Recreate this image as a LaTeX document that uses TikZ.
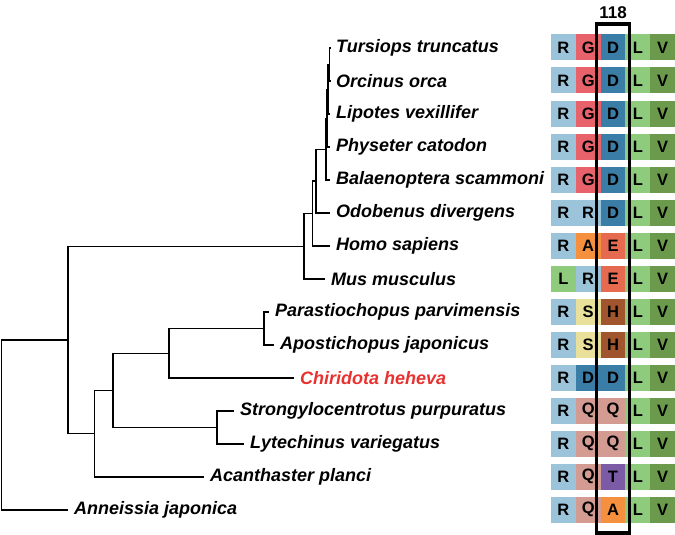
\documentclass[tikz,border=0pt]{standalone}
\usepackage{fontspec}
\setmainfont{Liberation Sans}
\usetikzlibrary{positioning}

\definecolor{colR}{HTML}{9BC4DA}
\definecolor{colG}{HTML}{E8626B}
\definecolor{colD}{HTML}{3A7DA6}
\definecolor{colL}{HTML}{8FCB7D}
\definecolor{colV}{HTML}{6B9A4D}
\definecolor{colA}{HTML}{F5913E}
\definecolor{colE}{HTML}{E56A4F}
\definecolor{colS}{HTML}{E9E09B}
\definecolor{colH}{HTML}{A1552F}
\definecolor{colQ}{HTML}{D49B93}
\definecolor{colT}{HTML}{7B5AA6}
\definecolor{chiri}{HTML}{E8322F}

\begin{document}
\begin{tikzpicture}[
    x = 1pt, y = -1pt,
    every edge/.append style = {line width=1.1pt, to path={|- (\tikztotarget)}},
    tip/.style = {shorten > = 6pt},
    leaf/.style = {anchor=west, inner sep=0pt, font=\fontsize{18}{20}\selectfont\bfseries\itshape},
    res/.style = {minimum width=24.8pt, minimum height=26pt, inner sep=0pt, outer sep=0pt,
                  font=\fontsize{16.5}{18}\selectfont\bfseries}
]
    \useasboundingbox (0,0) rectangle (675,535);

    % species
    \node[leaf] (t0) at (336,48) {Tursiops truncatus};
    \node[leaf] (t1) at (336,81) {Orcinus orca};
    \node[leaf] (t2) at (336,114) {Lipotes vexillifer};
    \node[leaf] (t3) at (336,147) {Physeter catodon};
    \node[leaf] (t4) at (336,180) {Balaenoptera scammoni};
    \node[leaf] (t5) at (336,213) {Odobenus divergens};
    \node[leaf] (t6) at (336,246) {Homo sapiens};
    \node[leaf] (t7) at (331,279) {Mus musculus};
    \node[leaf] (t8) at (275,312) {Parastiochopus parvimensis};
    \node[leaf] (t9) at (280,345) {Apostichopus japonicus};
    \node[leaf, text=chiri] (t10) at (300,378) {Chiridota heheva};
    \node[leaf] (t11) at (240,411) {Strongylocentrotus purpuratus};
    \node[leaf] (t12) at (250,444) {Lytechinus variegatus};
    \node[leaf] (t13) at (210,477) {Acanthaster planci};
    \node[leaf] (t14) at (74,510) {Anneissia japonica};

    % inner nodes
    \coordinate (c1) at (329.5,64.5);
    \coordinate (c2) at (328,89.3);
    \coordinate (c3) at (327,118.1);
    \coordinate (c4) at (326,149.1);
    \coordinate (m3) at (316,181);
    \coordinate (m2) at (312.5,213.5);
    \coordinate (m1) at (304,246.3);
    \coordinate (p) at (264,328.5);
    \coordinate (e3) at (169,353.3);
    \coordinate (s) at (217,427.5);
    \coordinate (e2) at (113,390.4);
    \coordinate (e1) at (94.7,433.7);
    \coordinate (a) at (68,340);
    \coordinate (root) at (1.5,425);

    \path
        (c1) edge[tip] (t0.west)
        (c1) edge[tip] (t1.west)
        (c2) edge (c1)
        (c2) edge[tip] (t2.west)
        (c3) edge (c2)
        (c3) edge[tip] (t3.west)
        (c4) edge (c3)
        (c4) edge[tip] (t4.west)
        (m3) edge (c4)
        (m3) edge[tip] (t5.west)
        (m2) edge (m3)
        (m2) edge[tip] (t6.west)
        (m1) edge (m2)
        (m1) edge[tip] (t7.west)
        (p) edge[tip] (t8.west)
        (p) edge[tip] (t9.west)
        (e3) edge (p)
        (e3) edge[tip] (t10.west)
        (s) edge[tip] (t11.west)
        (s) edge[tip] (t12.west)
        (e2) edge (e3)
        (e2) edge (s)
        (e1) edge (e2)
        (e1) edge[tip] (t13.west)
        (a) edge (m1)
        (a) edge (e1)
        (root) edge (a)
        (root) edge[tip] (t14.west);

    % alignment
    \foreach \p/\q/\r [count=\i from 0] in {R/G/D, R/G/D, R/G/D, R/G/D, R/G/D, R/R/D, R/A/E, L/R/E,
                                              R/S/H, R/S/H, R/D/D, R/Q/Q, R/Q/Q, R/Q/T, R/Q/A}{
        \node[res, fill=col\p] (a\i-1) at (563.4,{47.5+33*\i}) {\p};
        \node[res, fill=col\q, right=0pt of a\i-1] (a\i-2) {\q};
        \node[res, fill=col\r, right=0pt of a\i-2] (a\i-3) {\r};
        \node[res, fill=colL, right=0pt of a\i-3] (a\i-4) {L};
        \node[res, fill=colV, right=0pt of a\i-4] (a\i-5) {V};
    }

    \node[draw, line width=3.5pt, minimum width=33pt, minimum height=509pt, inner sep=0pt] (site) at (613,278.5) {};
    \node[above=0pt of site, font=\fontsize{17}{20}\selectfont\bfseries] (pos) {118};
\end{tikzpicture}
\end{document}
